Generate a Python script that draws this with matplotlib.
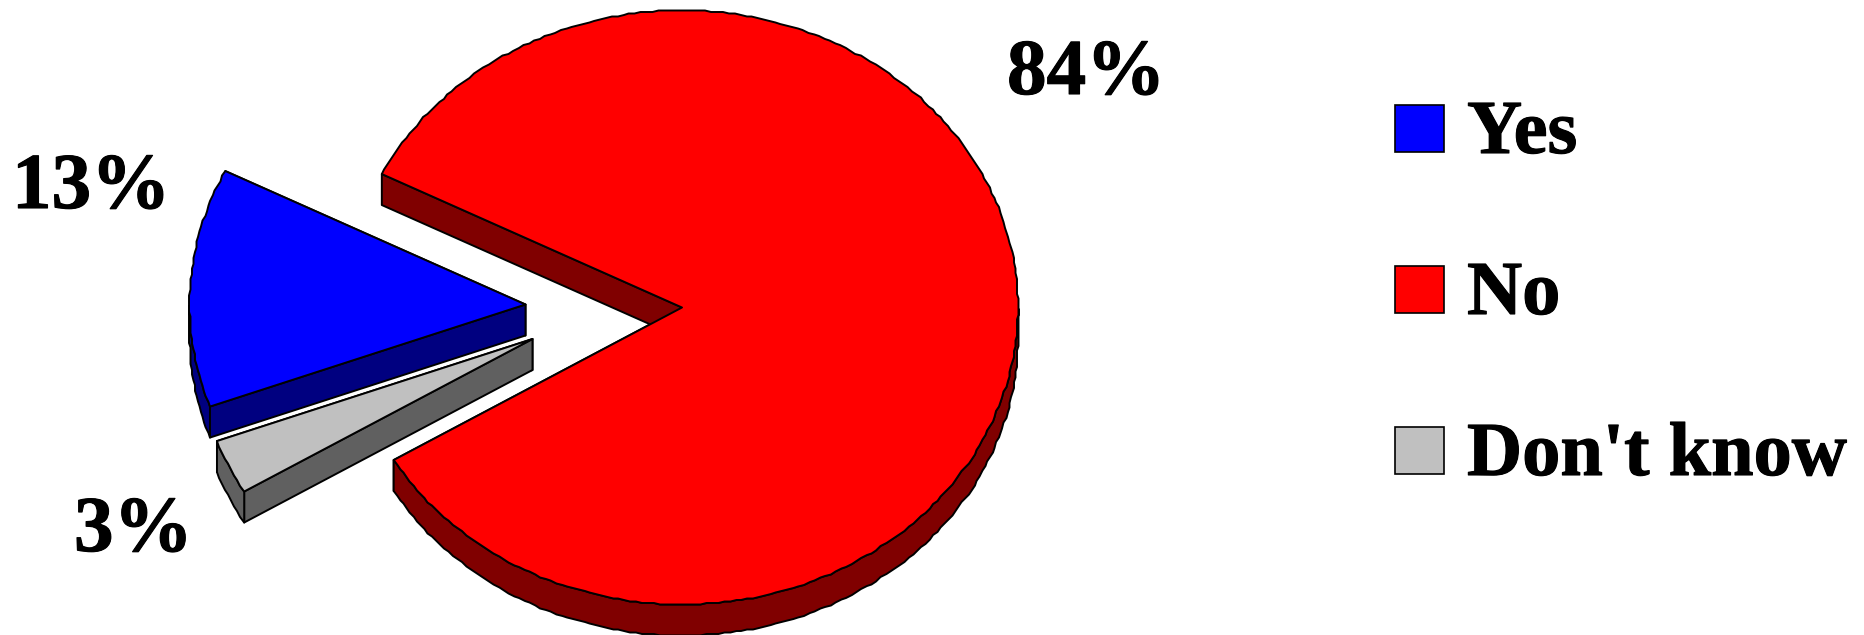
import numpy as np
import matplotlib
matplotlib.use('Agg')
import matplotlib.pyplot as plt
import matplotlib.patheffects as pe
from matplotlib.patches import Rectangle

## DATA
categories = ['Yes', 'No', "Don't know"]
shares = [13, 84, 3]

## STYLE
topColors = ['#0000FF', '#FF0000', '#C0C0C0']
sideColors = ['#000080', '#800000', '#606060']
startAngle = 153.3
radiusX, radiusY = 336.0, 297.0
depth = 31.0
tips = [(525.5, 304.5), (682.0, 307.5), (532.5, 339.0)]
labelSpots = [(12, 208), (1007, 94), (74, 551)]
legendTops = [105, 266, 427]
legendBase = [153, 314, 475]

plt.rcParams['font.family'] = ['Liberation Serif', 'DejaVu Serif']
plt.rcParams['font.weight'] = 'bold'
heavy = [pe.withStroke(linewidth=0.8, foreground='k')]


def arcPoints(tip, a0, a1):
  # rim of one slice, on the tilted ellipse, a little stepped like the original
  t = np.radians(np.linspace(a0, a1, max(int(abs(a1 - a0)), 6)))
  x = tip[0] + radiusX * np.cos(t)
  y = tip[1] - radiusY * np.sin(t)
  rim = np.column_stack([x, y])
  rim[1:-1] = np.round(rim[1:-1] / 1.5) * 1.5
  return rim


def drawSlice(ax, tip, a0, a1, top, side):
  edge = {'edgecolor': 'k', 'linewidth': 1.4, 'joinstyle': 'round'}
  rim = arcPoints(tip, a0, a1)
  tipPt = np.array(tip)
  down = np.array([0, depth])

  # side faces first, the top face hides what it covers
  for corner in (rim[0], rim[-1]):
    quad = np.array([tipPt, corner, corner + down, tipPt + down])
    ax.fill(quad[:, 0], quad[:, 1], facecolor=side, **edge)
  lower = rim[np.sin(np.radians(np.linspace(a0, a1, len(rim)))) < 0.0]
  if len(lower) > 1:
    wall = np.vstack([lower, (lower + down)[::-1]])
    ax.fill(wall[:, 0], wall[:, 1], facecolor=side, **edge)

  face = np.vstack([tipPt, rim])
  ax.fill(face[:, 0], face[:, 1], facecolor=top, **edge)


fig = plt.figure(figsize=[18.64, 6.35], dpi=100, facecolor='w')
ax = fig.add_axes([0, 0, 1, 1])
ax.set(xlim=[0, 1864], ylim=[635, 0])
ax.axis('off')

spans = 360.0 * np.array(shares) / sum(shares)
angle = startAngle
order = [0, 2, 1]  # counter clockwise from the upper cut: Yes, Don't know, No
for i in order:
  drawSlice(ax, tips[i], angle, angle + spans[i], topColors[i], sideColors[i])
  angle += spans[i]

for share, (x, y) in zip(shares, labelSpots):
  ax.text(x, y, f'{share}%', fontsize=57, ha='left', va='baseline', color='k', path_effects=heavy)

for name, color, top, base in zip(categories, topColors, legendTops, legendBase):
  ax.add_patch(Rectangle((1395, top), 49, 47, facecolor=color, edgecolor='k', linewidth=1.2))
  ax.text(1467, base, name, fontsize=55, ha='left', va='baseline', color='k', path_effects=heavy)

fig.savefig('out.png', dpi=100)
